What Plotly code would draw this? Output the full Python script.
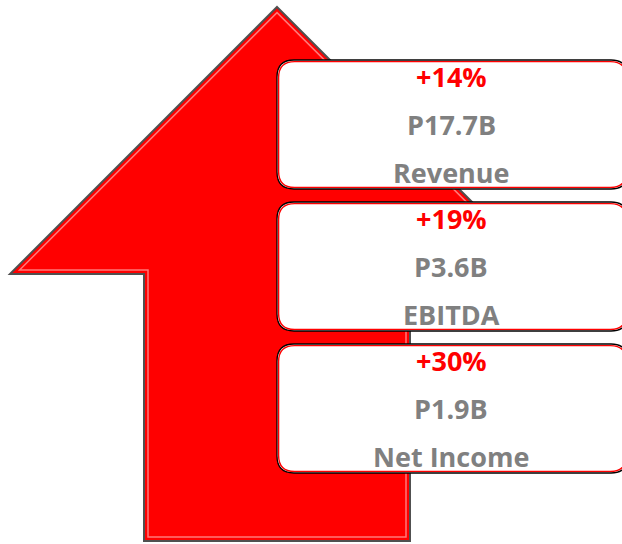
import plotly.graph_objects as go

# Data
growth = ["+14%", "+19%", "+30%"]
amounts = ["P17.7B", "P3.6B", "P1.9B"]
metrics = ["Revenue", "EBITDA", "Net Income"]

W, H = 622, 544
fig = go.Figure()

# Arrow geometry (pixel-space axes)
tip = (277, 7)
wing_y = 274
shaft_l, shaft_r = 144, 410
bottom = 541
half = tip[0] - 10

arrow = (f"M {tip[0]},{tip[1]} L {tip[0]+half},{wing_y} L {shaft_r},{wing_y} "
         f"L {shaft_r},{bottom} L {shaft_l},{bottom} L {shaft_l},{wing_y} "
         f"L {tip[0]-half},{wing_y} Z")
shapes = []
shapes.append(dict(type="path", path=arrow, xref="x", yref="y",
                   fillcolor="#ff0000", line=dict(color="#505050", width=2), layer="below"))
# inner highlight (bevel)
d = 4
inner = (f"M {tip[0]},{tip[1]+d*1.4} L {tip[0]+half-d*2.4},{wing_y-d} L {shaft_r-d},{wing_y-d} "
         f"L {shaft_r-d},{bottom-d} L {shaft_l+d},{bottom-d} L {shaft_l+d},{wing_y-d} "
         f"L {tip[0]-half+d*2.4},{wing_y-d} Z")
shapes.append(dict(type="path", path=inner, xref="x", yref="y",
                   fillcolor="rgba(0,0,0,0)", line=dict(color="rgba(255,150,150,0.8)", width=1.5), layer="below"))


def rrect(x0, y0, x1, y1, r):
    return (f"M {x0+r},{y0} L {x1-r},{y0} Q {x1},{y0} {x1},{y0+r} L {x1},{y1-r} "
            f"Q {x1},{y1} {x1-r},{y1} L {x0+r},{y1} Q {x0},{y1} {x0},{y1-r} "
            f"L {x0},{y0+r} Q {x0},{y0} {x0+r},{y0} Z")

box_x0, box_x1 = 277, 628
box_top0, box_h, pitch = 60, 129, 142
cx = 451
fs = 27
annotations = []
for i in range(len(metrics)):
    y0 = box_top0 + i * pitch
    y1 = y0 + box_h
    shapes.append(dict(type="path", path=rrect(box_x0, y0, box_x1, y1, 17), xref="x", yref="y",
                       fillcolor="white", line=dict(color="#000000", width=1.3), layer="above"))
    shapes.append(dict(type="path", path=rrect(box_x0 + 1.6, y0 + 1.6, box_x1 - 1.6, y1 - 1.6, 16),
                       xref="x", yref="y", fillcolor="rgba(0,0,0,0)",
                       line=dict(color="#ff0000", width=1.4), layer="above"))
    annotations.append(dict(x=cx, y=y0 + 16, text=f"<b>{growth[i]}</b>", showarrow=False,
                            xref="x", yref="y", font=dict(family="Open Sans", size=fs, color="#ff0000")))
    annotations.append(dict(x=cx, y=y0 + 64, text=f"<b>{amounts[i]}</b>", showarrow=False,
                            xref="x", yref="y", font=dict(family="Open Sans", size=fs, color="#808080")))
    annotations.append(dict(x=cx, y=y0 + 112, text=f"<b>{metrics[i]}</b>", showarrow=False,
                            xref="x", yref="y", font=dict(family="Open Sans", size=fs, color="#808080")))

# invisible anchor trace
fig.add_trace(go.Scatter(x=[0, W], y=[0, H], mode="markers", marker=dict(opacity=0),
                         hoverinfo="skip", showlegend=False))

fig.update_layout(
    width=W, height=H, margin=dict(l=0, r=0, t=0, b=0),
    paper_bgcolor="white", plot_bgcolor="white",
    xaxis=dict(range=[0, W], visible=False, fixedrange=True),
    yaxis=dict(range=[H, 0], visible=False, fixedrange=True),
    shapes=shapes, annotations=annotations, showlegend=False,
)
fig.write_html("out.html", config={"displayModeBar": False},
               post_script="document.body.style.margin='0';document.body.style.overflow='hidden';")
